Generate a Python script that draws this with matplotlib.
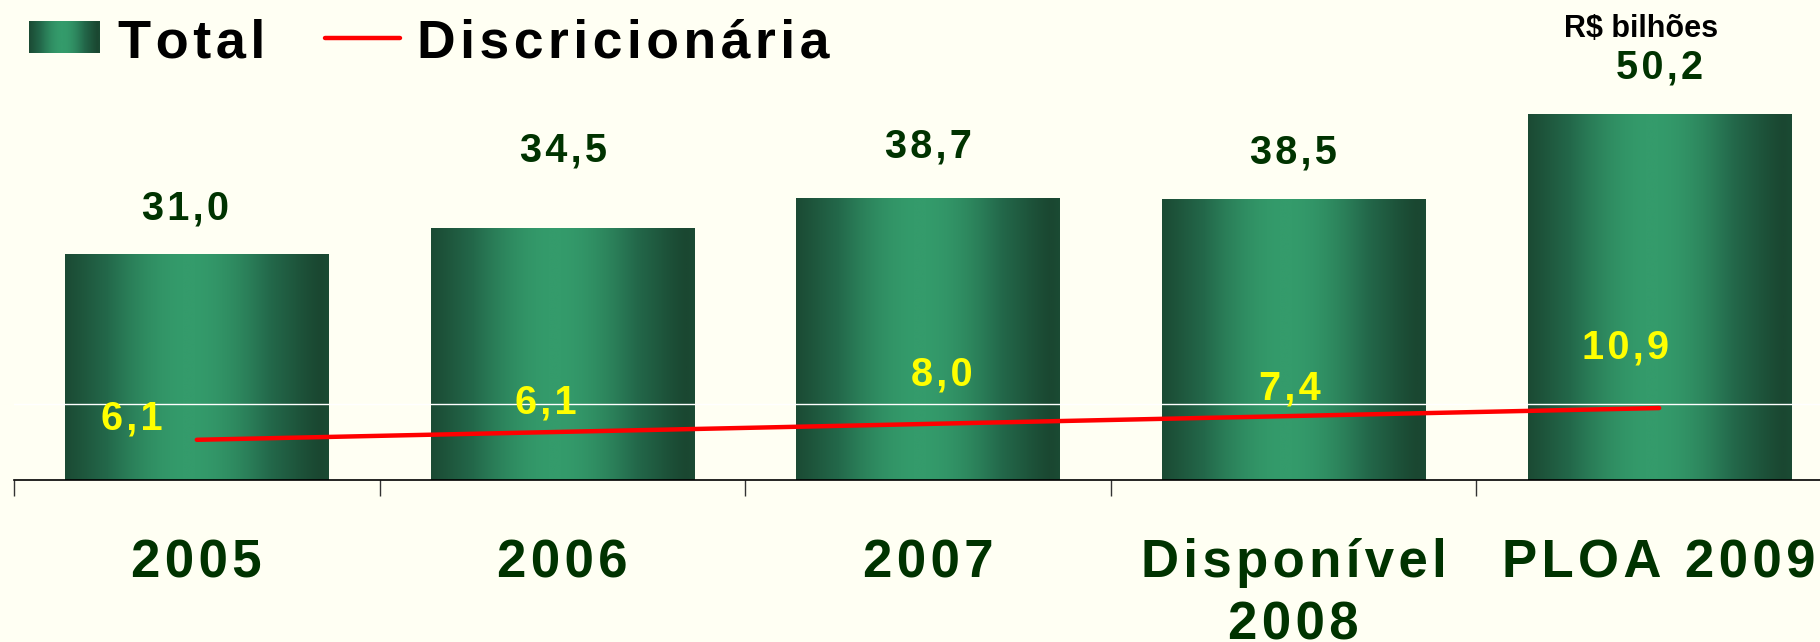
import numpy as np
import matplotlib
matplotlib.use("Agg")
import matplotlib.pyplot as plt
from matplotlib.colors import LinearSegmentedColormap
from matplotlib.lines import Line2D

categories = ["2005", "2006", "2007", "Disponível\n2008", "PLOA 2009"]
total = [31.0, 34.5, 38.7, 38.5, 50.2]
discricionaria = [6.1, 6.1, 8.0, 7.4, 10.9]

# label offsets (points)
total_dx = [-8, 1, 0, 0, 0]
total_dy = [33, 56, 37, 34, 34]
disc_dx = [-47, -12, 10, -3, -24]
disc_dy = [12, 24, 34, 27, 38]

BG = "#FFFFF3"
DARK_GREEN = "#003300"
FONT = ["Liberation Sans", "DejaVu Sans"]
plt.rcParams["font.family"] = FONT


def spaced(s):
    # wide letter spacing as in the slide
    return "\n".join("\u200a".join(line) for line in s.split("\n"))


grad_cmap = LinearSegmentedColormap.from_list("bar", ["#1A4731", "#23684A", "#349B6B"])
xs = np.linspace(0, 1, 256)
prof = np.clip(0.5 * (1 + np.cos(np.pi * (xs - 0.47) / 0.5)), 0, 1) ** 0.6
grad = prof[np.newaxis, :]

W, H = 1820, 642
fig = plt.figure(figsize=(18.2, 6.42), dpi=100, facecolor=BG)
ax = fig.add_axes([14 / W, (H - 480) / H, 1 - 14 / W, 437 / H])
ax.set_facecolor(BG)

x = np.arange(len(categories))
bars = ax.bar(x, total, width=0.72, color="none", zorder=1)
for b in bars:
    bx, by, bw, bh = b.get_x(), b.get_y(), b.get_width(), b.get_height()
    ax.imshow(grad, extent=[bx, bx + bw, by, by + bh], aspect="auto",
              cmap=grad_cmap, vmin=0, vmax=1, zorder=1, interpolation="bilinear")

ax.axhline(10.4, color="white", lw=1, zorder=2)

# linear trend of the discretionary series
coef = np.polyfit(x, discricionaria, 1)
ax.plot(x, np.polyval(coef, x), color="#FF0000", lw=3.2, solid_capstyle="round", zorder=3)

for i, v in enumerate(total):
    ax.annotate(spaced(f"{v:.1f}".replace(".", ",")), (x[i], v),
                xytext=(total_dx[i], total_dy[i]), textcoords="offset points",
                ha="center", va="center", fontsize=28.5, fontweight="bold",
                color=DARK_GREEN, family=FONT, zorder=4)
for i, v in enumerate(discricionaria):
    ax.annotate(spaced(f"{v:.1f}".replace(".", ",")), (x[i], v),
                xytext=(disc_dx[i], disc_dy[i]), textcoords="offset points",
                ha="center", va="center", fontsize=28.5, fontweight="bold",
                color="#FFFF00", family=FONT, zorder=4)

ax.set_xlim(-0.5, -0.5 + (W - 14) / 365.6)
ax.set_ylim(0, 60)
ax.set_xticks(np.arange(len(categories)) - 0.5)
ax.set_xticklabels([])
ax.tick_params(axis="x", which="major", length=11.5, width=1, color="#333333", direction="out")
ax.set_xticks(x, minor=True)
ax.set_xticklabels([spaced(c) for c in categories], minor=True)
ax.tick_params(axis="x", which="minor", length=0, pad=42, labelsize=38, labelcolor=DARK_GREEN)
for lab in ax.get_xticklabels(minor=True):
    lab.set_fontweight("bold")
    lab.set_linespacing(1.3)
ax.set_yticks([])
for s in ["left", "right", "top"]:
    ax.spines[s].set_visible(False)
ax.spines["bottom"].set_linewidth(1.2)
ax.spines["bottom"].set_color("black")

# legend drawn by hand
sw = fig.add_axes([29 / W, (H - 53) / H, 71 / W, 32 / H])
sw.imshow(grad, aspect="auto", cmap=grad_cmap, vmin=0, vmax=1)
sw.axis("off")
fig.text(118 / W, 1 - 57 / H, spaced("Total"), fontsize=39, fontweight="bold",
         color="black", va="baseline", ha="left", family=FONT)
fig.add_artist(Line2D([325 / W, 400 / W], [1 - 38 / H, 1 - 38 / H], color="#FF0000",
                      lw=3.2, solid_capstyle="round"))
fig.text(417 / W, 1 - 57 / H, spaced("Discricionária"), fontsize=38.5, fontweight="bold",
         color="black", va="baseline", ha="left", family=FONT)

fig.text(1641 / W, 1 - 37 / H, "R$ bilhões", fontsize=22, fontweight="bold",
         color="black", va="baseline", ha="center", family=FONT)

fig.savefig("out.png", dpi=100, facecolor=BG)
